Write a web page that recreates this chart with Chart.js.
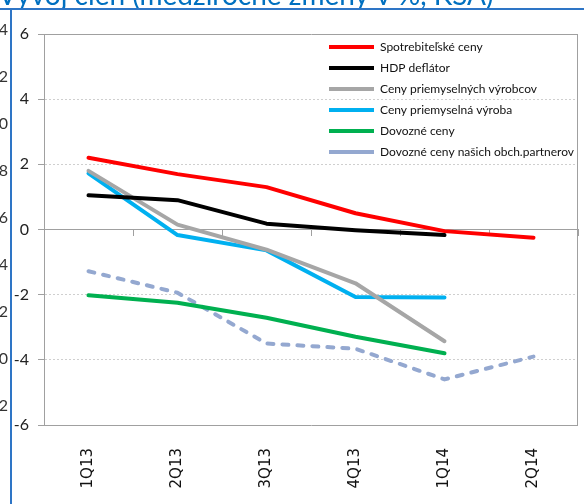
<!DOCTYPE html>
<html>
<head>
<meta charset="utf-8">
<script src="https://cdn.jsdelivr.net/npm/chart.js@4"></script>
<style>
html, body { margin: 0; padding: 0; background: #fff; }
</style>
</head>
<body>
<canvas id="cenyChart" width="584" height="504"></canvas>
<script>
// data (medziročné zmeny v %)
const quarters = ["1Q13", "2Q13", "3Q13", "4Q13", "1Q14", "2Q14"];
const spotrebitelske = [2.2, 1.7, 1.3, 0.5, -0.05, -0.25];
const hdpDeflator = [1.05, 0.9, 0.18, -0.02, -0.17, null];
const vyrobcov = [1.8, 0.15, -0.62, -1.65, -3.43, null];
const vyroba = [1.72, -0.17, -0.64, -2.07, -2.09, null];
const dovozne = [-2.02, -2.25, -2.71, -3.29, -3.8, null];
const partneri = [-1.28, -1.94, -3.5, -3.66, -4.6, -3.9];
const yTicks = [-6, -4, -2, 0, 2, 4, 6];

// cut-off bits of the page around the chart
const titleText = "Vývoj cien (medziročné zmeny v %, KSA)";
const neighbourTicks = ["14", "12", "10", "8", "6", "4", "2", "0", "-2"];

const narrow = "Lato, 'Liberation Sans', sans-serif";
const frameGray = "#A0A0A0";

const decor = {
    id: "decor",
    beforeDraw(chart) {
        const ctx = chart.ctx;
        ctx.save();
        ctx.fillStyle = "#0070C0";
        ctx.font = "28px " + narrow;
        ctx.textBaseline = "alphabetic";
        ctx.fillText(titleText, -2, 5);

        ctx.strokeStyle = "#2E75C6";
        ctx.lineWidth = 2;
        ctx.beginPath();
        ctx.moveTo(0, 9);
        ctx.lineTo(584, 9);
        ctx.moveTo(11, 9);
        ctx.lineTo(11, 504);
        ctx.stroke();

        ctx.fillStyle = "#333";
        ctx.font = "16px " + narrow;
        ctx.textAlign = "right";
        ctx.textBaseline = "middle";
        neighbourTicks.forEach((t, i) => ctx.fillText(t, 8, 30 + 47 * i));
        ctx.restore();
    },
    beforeDatasetsDraw(chart) {
        const { ctx, chartArea } = chart;
        ctx.save();
        ctx.strokeStyle = frameGray;
        ctx.lineWidth = 1;
        ctx.beginPath();
        ctx.moveTo(chartArea.right - 0.5, chartArea.top);
        ctx.lineTo(chartArea.right - 0.5, chartArea.bottom);
        ctx.stroke();
        ctx.restore();
    },
    afterLayout(chart) {
        // legend sits inside the plot, top right
        const lg = chart.legend;
        lg.left = 320;
        lg.right = chart.chartArea.right;
        lg.top = 32;
        lg.bottom = 220;
    }
};

function line(label, data, color, dash) {
    return {
        label: label,
        data: data,
        borderColor: color,
        backgroundColor: color,
        borderWidth: 4,
        borderDash: dash || [],
        borderCapStyle: "round",
        borderJoinStyle: "round",
        pointRadius: 0,
        pointHoverRadius: 0,
        tension: 0,
        fill: false
    };
}

const ctx = document.getElementById("cenyChart").getContext("2d");

new Chart(ctx, {
    type: "line",
    data: {
        labels: quarters,
        datasets: [
            line("Spotrebiteľské ceny", spotrebitelske, "#FF0000"),
            line("HDP deflátor", hdpDeflator, "#000000"),
            line("Ceny priemyselných výrobcov", vyrobcov, "#A6A6A6"),
            line("Ceny priemyselná výroba", vyroba, "#00B0F0"),
            line("Dovozné ceny", dovozne, "#00B050"),
            line("Dovozné ceny našich obch.partnerov", partneri, "#94A8D0", [6, 9])
        ]
    },
    options: {
        responsive: false,
        animation: false,
        layout: { padding: { left: 12, top: 34, right: 6, bottom: 0 } },
        plugins: {
            tooltip: { enabled: false },
            legend: {
                position: "chartArea",
                align: "start",
                labels: {
                    usePointStyle: true,
                    pointStyle: "line",
                    pointStyleWidth: 45,
                    padding: 9,
                    color: "#111",
                    font: { family: narrow, size: 12 }
                }
            }
        },
        scales: {
            x: {
                position: "bottom",
                offset: true,
                grid: { display: false },
                border: { display: false },
                ticks: {
                    minRotation: 90,
                    maxRotation: 90,
                    padding: 15,
                    color: "#111",
                    font: { family: "'DejaVu Sans', sans-serif", size: 15 }
                },
                afterFit(scale) { scale.height = 79; }
            },
            x2: {
                type: "category",
                axis: "x",
                position: { y: 0 },
                offset: true,
                grid: {
                    offset: true,
                    drawOnChartArea: false,
                    drawTicks: true,
                    tickLength: 6,
                    tickColor: frameGray,
                    color: frameGray
                },
                border: { display: true, color: frameGray },
                ticks: { display: false }
            },
            y: {
                min: -6,
                max: 6,
                afterBuildTicks(scale) {
                    scale.ticks = yTicks.map(v => ({ value: v }));
                },
                afterFit(scale) { scale.width = 32; },
                ticks: {
                    padding: 9,
                    color: "#222",
                    font: { family: narrow, size: 16 }
                },
                grid: {
                    color: c => (c.tick && c.tick.value % 6 !== 0) ? "#CFCFCF" : frameGray,
                    lineWidth: 1,
                    drawTicks: true,
                    tickLength: 6,
                    tickColor: frameGray,
                    tickBorderDash: []
                },
                border: {
                    display: true,
                    color: frameGray,
                    dash: c => (c.tick && c.tick.value % 6 !== 0) ? [2, 2] : []
                }
            }
        }
    },
    plugins: [decor]
});
</script>
</body>
</html>
